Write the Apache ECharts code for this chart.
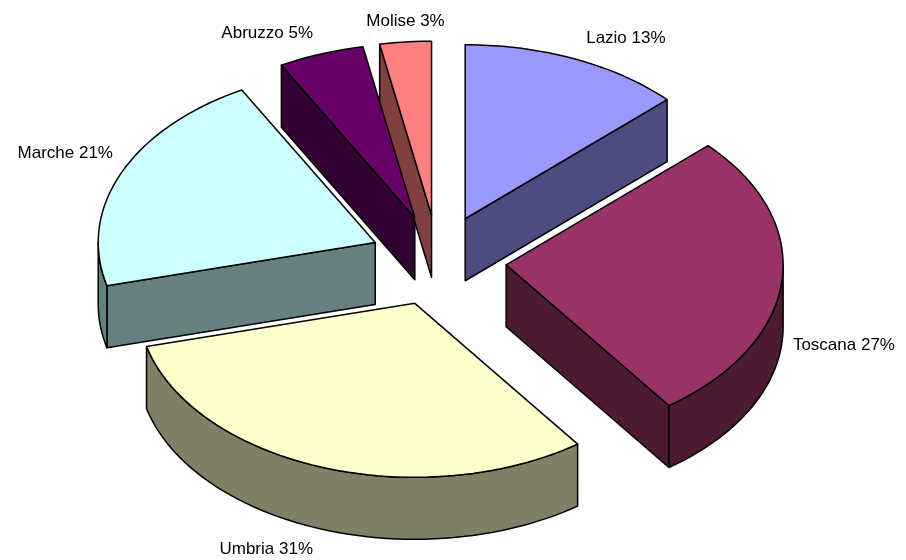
<!DOCTYPE html>
<html>
<head>
<meta charset="utf-8">
<script src="https://cdn.jsdelivr.net/npm/echarts@6/dist/echarts.min.js"></script>
<style>html,body{margin:0;padding:0;background:#fff}#c{width:906px;height:560px}</style>
</head>
<body>
<div id="c"></div>
<script>
const categories = ['Lazio', 'Toscana', 'Umbria', 'Marche', 'Abruzzo', 'Molise'];
const values = [13, 27, 31, 21, 5, 3];
const topColors = ['#9999FF', '#993366', '#FFFFCC', '#CCFFFF', '#660066', '#FF8080'];
const sideColors = ['#4C4C80', '#4D1A33', '#808066', '#668080', '#330033', '#804040'];

const G = { cx: 438, cy: 260.5, rx: 277, ry: 174, depth: 62, exX: 0.247, exY: 0.2615 };
const total = values.reduce((a, b) => a + b, 0);

function sliceGeom(i) {
  let before = 0;
  for (let k = 0; k < i; k++) before += values[k];
  const s = before / total * Math.PI * 2;
  const e = (before + values[i]) / total * Math.PI * 2;
  const m = (s + e) / 2;
  const ax = G.cx + G.exX * G.rx * Math.sin(m);
  const ay = G.cy - G.exY * G.ry * Math.cos(m);
  const pt = (t, dz) => [ax + G.rx * Math.sin(t), ay - G.ry * Math.cos(t) + (dz || 0)];
  return { s, e, m, ax, ay, pt };
}
function arc(g, a, b, dz) {
  const n = Math.max(2, Math.ceil((b - a) / (Math.PI / 90)));
  const out = [];
  for (let j = 0; j <= n; j++) out.push(g.pt(a + (b - a) * j / n, dz));
  return out;
}
const stroke = { stroke: '#000', lineWidth: 1.5, lineJoin: 'round' };

function renderSides(params, api) {
  const i = params.dataIndex;
  const g = sliceGeom(i);
  const D = G.depth;
  const ch = [];
  const face = (t) => {
    const p = g.pt(t, 0);
    return { type: 'polygon', shape: { points: [[g.ax, g.ay], p, [p[0], p[1] + D], [g.ax, g.ay + D]] },
      style: Object.assign({ fill: sideColors[i] }, stroke) };
  };
  if (Math.sin(g.e) > 1e-6) ch.push(face(g.e));
  if (-Math.sin(g.s) > 1e-6) ch.push(face(g.s));
  const a = Math.max(g.s, Math.PI / 2), b = Math.min(g.e, Math.PI * 1.5);
  if (a < b) {
    const top = arc(g, a, b, 0);
    const bot = arc(g, a, b, D).reverse();
    ch.push({ type: 'polygon', shape: { points: top.concat(bot) },
      style: Object.assign({ fill: sideColors[i] }, stroke) });
  }
  return { type: 'group', children: ch };
}

function renderTops(params, api) {
  const i = params.dataIndex;
  const g = sliceGeom(i);
  const pts = [[g.ax, g.ay]].concat(arc(g, g.s, g.e, 0));
  const sm = Math.sin(g.m), cm = Math.cos(g.m);
  const p = g.pt(g.m, cm < 0 ? G.depth : 0);
  let align = 'center', va = 'middle', x = p[0], y = p[1];
  if (sm > 0.3) { align = 'left'; x += 11; } else if (sm < -0.3) { align = 'right'; x -= 8; }
  if (cm > 0.3) { va = 'bottom'; y -= 12; } else if (cm < -0.3) { va = 'top'; y += 12; } else { y += 2; }
  return { type: 'group', children: [
    { type: 'polygon', shape: { points: pts }, style: Object.assign({ fill: topColors[i] }, stroke) },
    { type: 'text', style: { text: categories[i] + ' ' + Math.round(api.value(0) / total * 100) + '%', x: x, y: y,
      align: align, verticalAlign: va, fill: '#000', font: '17px "Liberation Sans", Arial, sans-serif' } }
  ] };
}

const chart = echarts.init(document.getElementById('c'), null, { renderer: 'canvas' });
chart.setOption({
  backgroundColor: '#fff',
  animation: false,
  series: [
    { type: 'custom', coordinateSystem: 'none', renderItem: renderSides, data: values, z: 1, silent: true },
    { type: 'custom', coordinateSystem: 'none', renderItem: renderTops, data: values, z: 2, silent: true }
  ]
});
</script>
</body>
</html>
